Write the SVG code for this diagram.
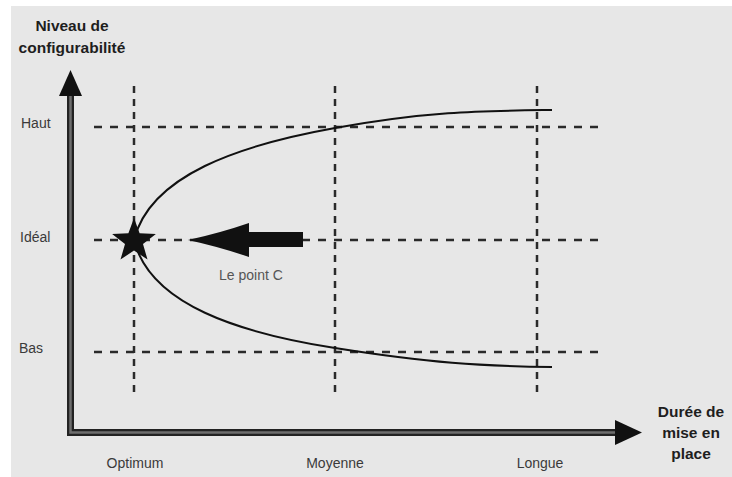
<svg xmlns="http://www.w3.org/2000/svg" width="732" height="477" viewBox="0 0 732 477">
  <defs>
    <style>
      .title { font-family: "Liberation Sans", Arial, sans-serif; font-weight: bold; font-size: 15.5px; fill: #1e1e1e; text-anchor: middle; }
      .lab { font-family: "Liberation Sans", Arial, sans-serif; font-size: 14px; fill: #3a3a3a; }
      .mid { text-anchor: middle; }
      .note { fill: #555555; }
      .dash-h { stroke: #2a2a2a; stroke-width: 2.5; stroke-dasharray: 8 8; fill: none; }
      .dash-v { stroke: #2a2a2a; stroke-width: 2.5; stroke-dasharray: 7 6; fill: none; }
      .curve { stroke: #111; stroke-width: 2; fill: none; }
      .axis-out { stroke: #222; stroke-width: 7; fill: none; stroke-linejoin: miter; }
      .axis-in { stroke: #6e6e6e; stroke-width: 2.5; fill: none; stroke-linejoin: miter; }
    </style>
  </defs>
  <rect x="0" y="0" width="732" height="477" fill="#ffffff"/>
  <rect x="11" y="6" width="721" height="471" fill="#e7e7e7"/>

  <g id="grid">
    <line class="dash-h" x1="94" y1="127" x2="601" y2="127"/>
    <line class="dash-h" x1="94" y1="240" x2="601" y2="240"/>
    <line class="dash-h" x1="94" y1="352" x2="601" y2="352"/>
    <line class="dash-v" x1="134" y1="86" x2="134" y2="393"/>
    <line class="dash-v" x1="335" y1="86" x2="335" y2="393"/>
    <line class="dash-v" x1="537" y1="86" x2="537" y2="393"/>
  </g>

  <g id="axes">
    <path class="axis-out" d="M70.5,95 L70.5,432.5 L617,432.5"/>
    <path class="axis-in" d="M70.5,95 L70.5,432.5 L617,432.5"/>
    <polygon points="70.5,70 59,96 82,96" fill="#111"/>
    <polygon points="642,432.5 615,420 615,445" fill="#111"/>
  </g>

  <g id="curves">
    <path class="curve" d="M134,240 C150,175 240,145 335,128 S480,111 552,110"/>
    <path class="curve" d="M134,240 C150,305 240,333 335,348 S480,366 552,367"/>
  </g>

  <g id="star">
    <polygon fill="#111" points="134,218 139.6,233.3 155.9,233.9 143,243.9 147.5,259.6 134,250.5 120.5,259.6 125,243.9 112.1,233.9 128.4,233.3"/>
  </g>

  <g id="arrow-c">
    <path fill="#111" d="M188,240 Q220,233 249,223 L249,232 L303,232 L303,247 L249,247 L249,257 Q220,247 188,240 Z"/>
    <text class="lab mid note" x="251" y="280">Le point C</text>
  </g>

  <g id="labels">
    <text class="title" x="72" y="31">Niveau de</text>
    <text class="title" x="72" y="53">configurabilité</text>
    <text class="lab" x="21" y="128">Haut</text>
    <text class="lab" x="20" y="242">Idéal</text>
    <text class="lab" x="19" y="353">Bas</text>
    <text class="lab mid" x="135" y="468">Optimum</text>
    <text class="lab mid" x="335" y="468">Moyenne</text>
    <text class="lab mid" x="540" y="468">Longue</text>
    <text class="title" x="691" y="417">Durée de</text>
    <text class="title" x="691" y="438">mise en</text>
    <text class="title" x="691" y="459">place</text>
  </g>
</svg>
